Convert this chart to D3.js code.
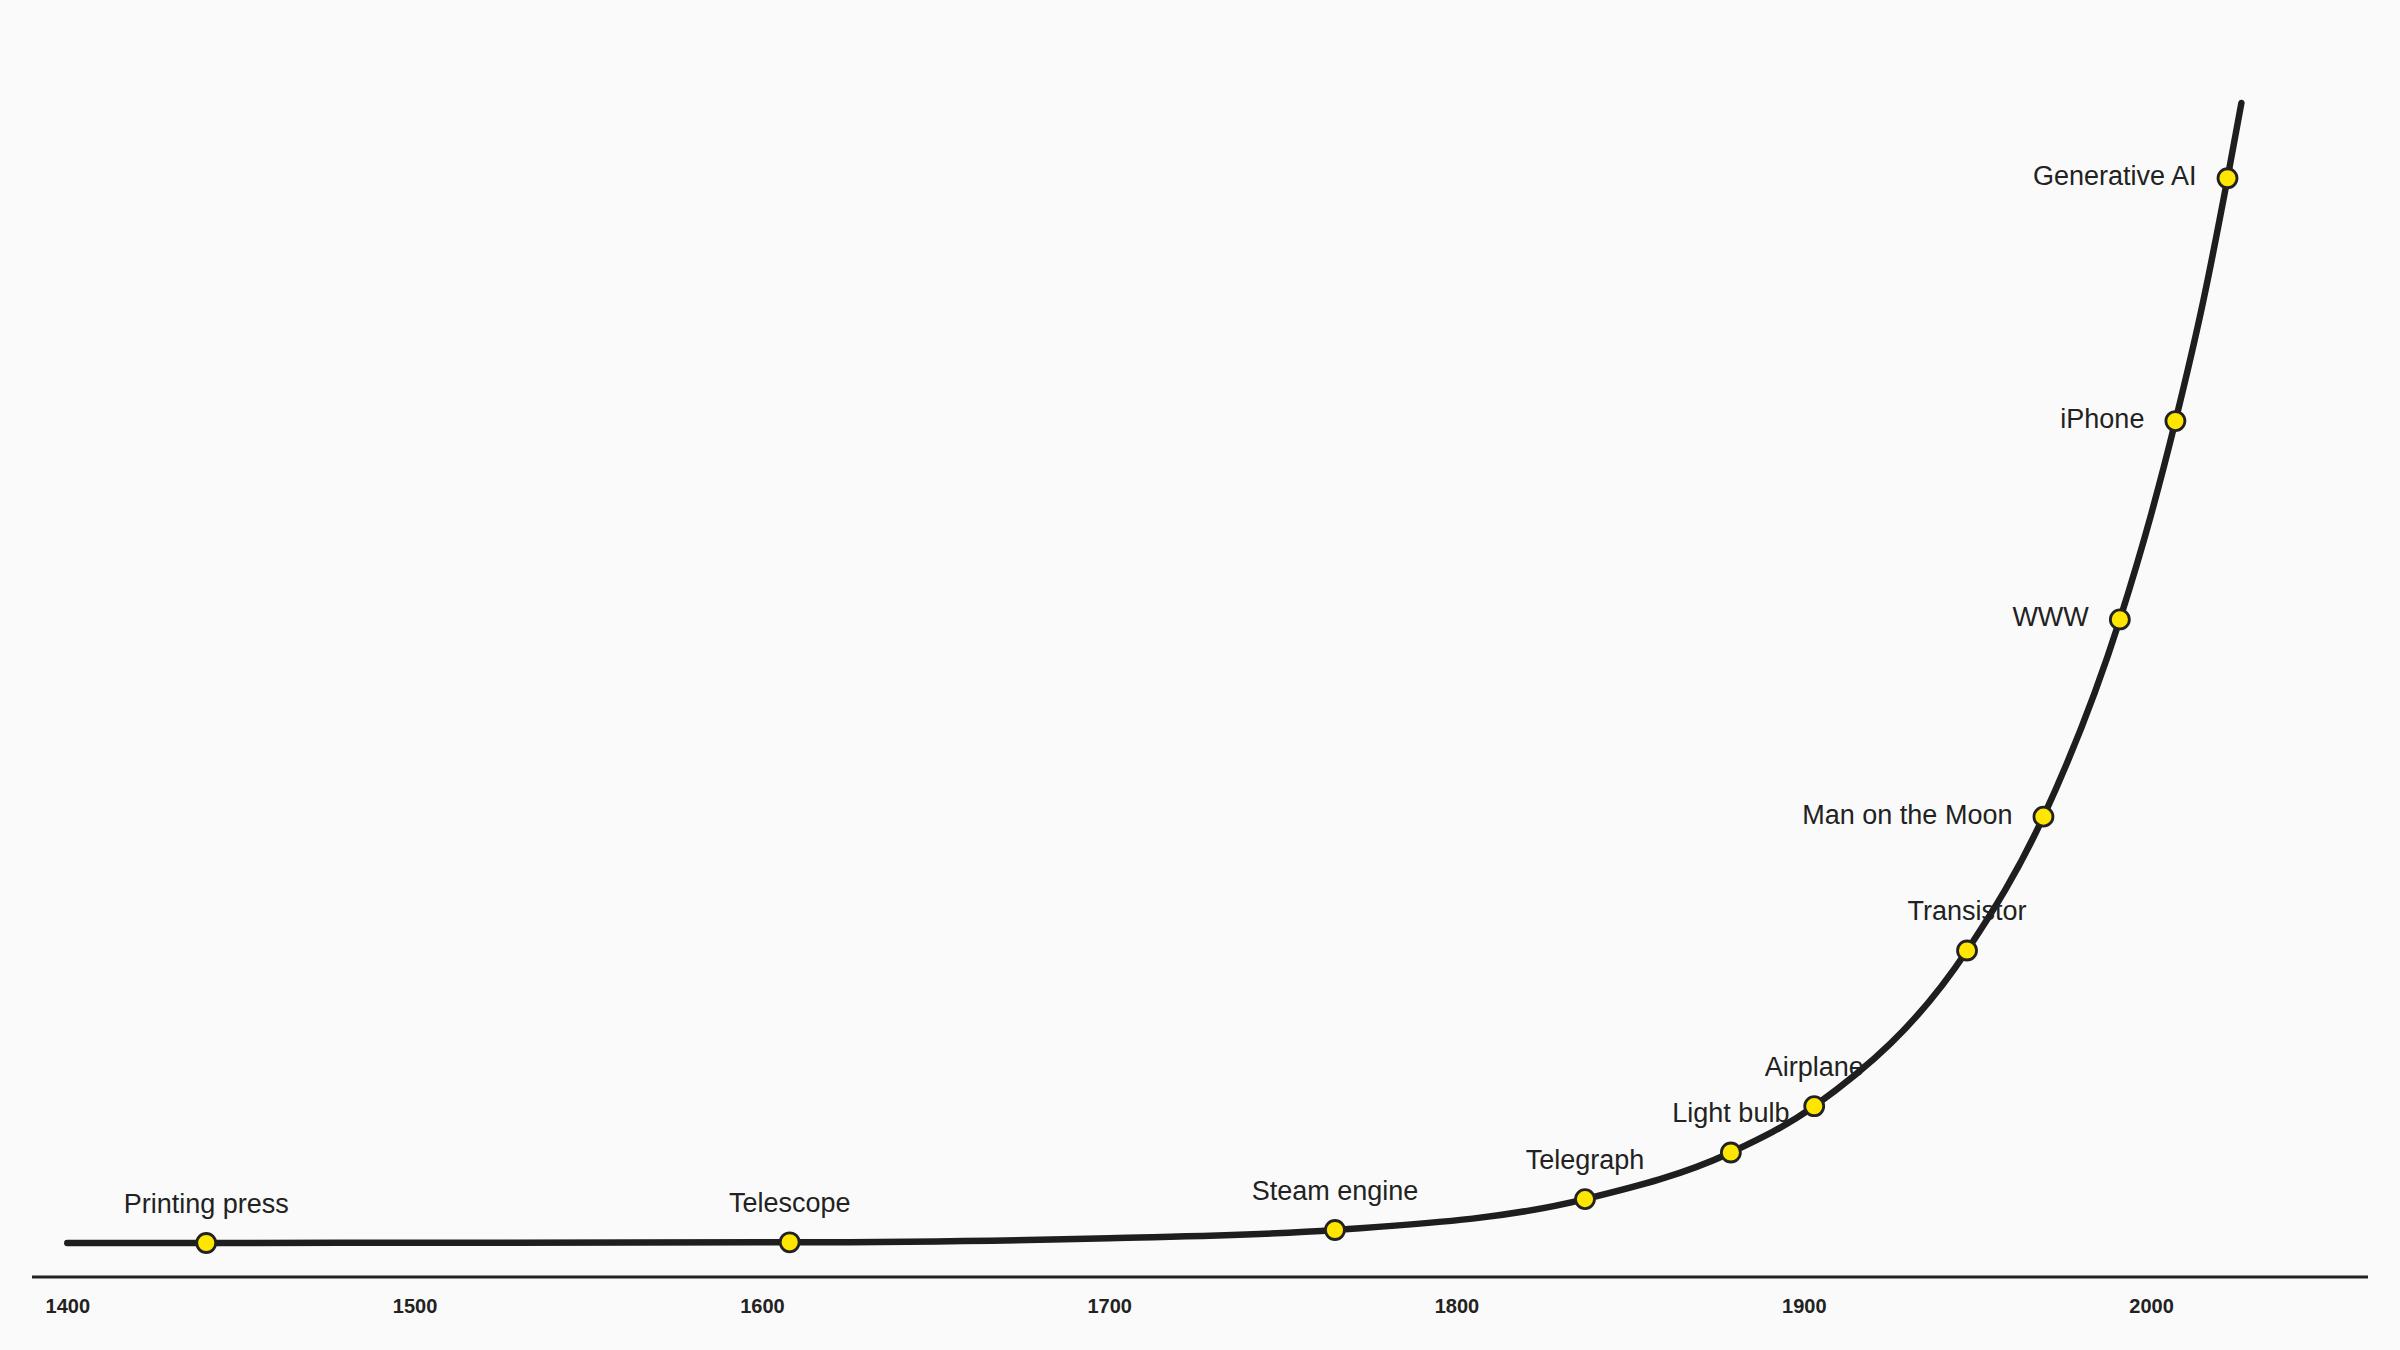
<!DOCTYPE html>
<html>
<head>
<meta charset="utf-8">
<script src="https://cdn.jsdelivr.net/npm/d3@7"></script>
<style>
  html, body { margin: 0; padding: 0; background: #fafafa; }
  svg { display: block; }
  .milestone-label { font-family: "Liberation Sans", Arial, sans-serif; font-size: 27px; fill: #222; }
  .tick text { font-family: "Liberation Sans", Arial, sans-serif; font-size: 20px; font-weight: bold; fill: #222; }
</style>
</head>
<body>
<div id="chart"></div>
<script>
// milestones on the curve
var milestoneNames = ["Printing press", "Telescope", "Steam engine", "Telegraph", "Light bulb",
  "Airplane", "Transistor", "Man on the Moon", "WWW", "iPhone", "Generative AI"];
var milestoneYears = [1440, 1608, 1765, 1837, 1879, 1903, 1947, 1969, 1991, 2007, 2022];
var milestoneValues = [0, 0.06, 1.14, 3.85, 7.94, 12.0, 25.66, 37.4, 54.7, 72.1, 93.4];

// the curve itself
var curveYears = [1400, 1440, 1500, 1608, 1700, 1765, 1837, 1879, 1903, 1947, 1969, 1991, 2000, 2007, 2015, 2022, 2026];
var curveValues = [0, 0, 0.02, 0.06, 0.42, 1.14, 3.85, 7.94, 12.0, 25.66, 37.4, 54.7, 63.9, 72.1, 82.6, 93.4, 100];

var tickYears = [1400, 1500, 1600, 1700, 1800, 1900, 2000];

// these get their label on the left instead of above
var leftLabeled = ["Man on the Moon", "WWW", "iPhone", "Generative AI"];

var width = 2400,
    height = 1350,
    axisY = 1277;

var x = d3.scaleLinear()
    .domain([1400, 2000])
    .range([67.3, 2151.1]);

var y = d3.scaleLinear()
    .domain([0, 100])
    .range([1243, 103]);

var svg = d3.select("#chart").append("svg")
    .attr("width", width)
    .attr("height", height)
    .style("background", "#fafafa");

// baseline
svg.append("line")
    .attr("x1", 32)
    .attr("x2", 2368)
    .attr("y1", axisY)
    .attr("y2", axisY)
    .attr("stroke", "#222")
    .attr("stroke-width", 3);

var xAxis = d3.axisBottom(x)
    .tickValues(tickYears)
    .tickFormat(d3.format("d"))
    .tickSize(0)
    .tickPadding(22);

svg.append("g")
    .attr("transform", "translate(0," + axisY + ")")
    .call(xAxis)
    .call(function(g) { g.select(".domain").remove(); });

var curvePoints = curveYears.map(function(yr, i) { return [yr, curveValues[i]]; });

var line = d3.line()
    .x(function(d) { return x(d[0]); })
    .y(function(d) { return y(d[1]); })
    .curve(d3.curveMonotoneX);

svg.append("path")
    .datum(curvePoints)
    .attr("d", line)
    .attr("fill", "none")
    .attr("stroke", "#1e1e1e")
    .attr("stroke-width", 6.5)
    .attr("stroke-linecap", "round")
    .attr("stroke-linejoin", "round");

var milestones = milestoneNames.map(function(name, i) {
    return { name: name, year: milestoneYears[i], value: milestoneValues[i] };
});

var node = svg.append("g").selectAll("g")
    .data(milestones)
    .enter().append("g")
    .attr("transform", function(d) { return "translate(" + x(d.year) + "," + y(d.value) + ")"; });

node.append("circle")
    .attr("r", 9.5)
    .attr("fill", "#ffe600")
    .attr("stroke", "#222")
    .attr("stroke-width", 2.8);

node.append("text")
    .attr("class", "milestone-label")
    .attr("x", function(d) { return leftLabeled.indexOf(d.name) >= 0 ? -31 : 0; })
    .attr("y", function(d) { return leftLabeled.indexOf(d.name) >= 0 ? 7 : -30; })
    .attr("text-anchor", function(d) { return leftLabeled.indexOf(d.name) >= 0 ? "end" : "middle"; })
    .text(function(d) { return d.name; });
</script>
</body>
</html>
